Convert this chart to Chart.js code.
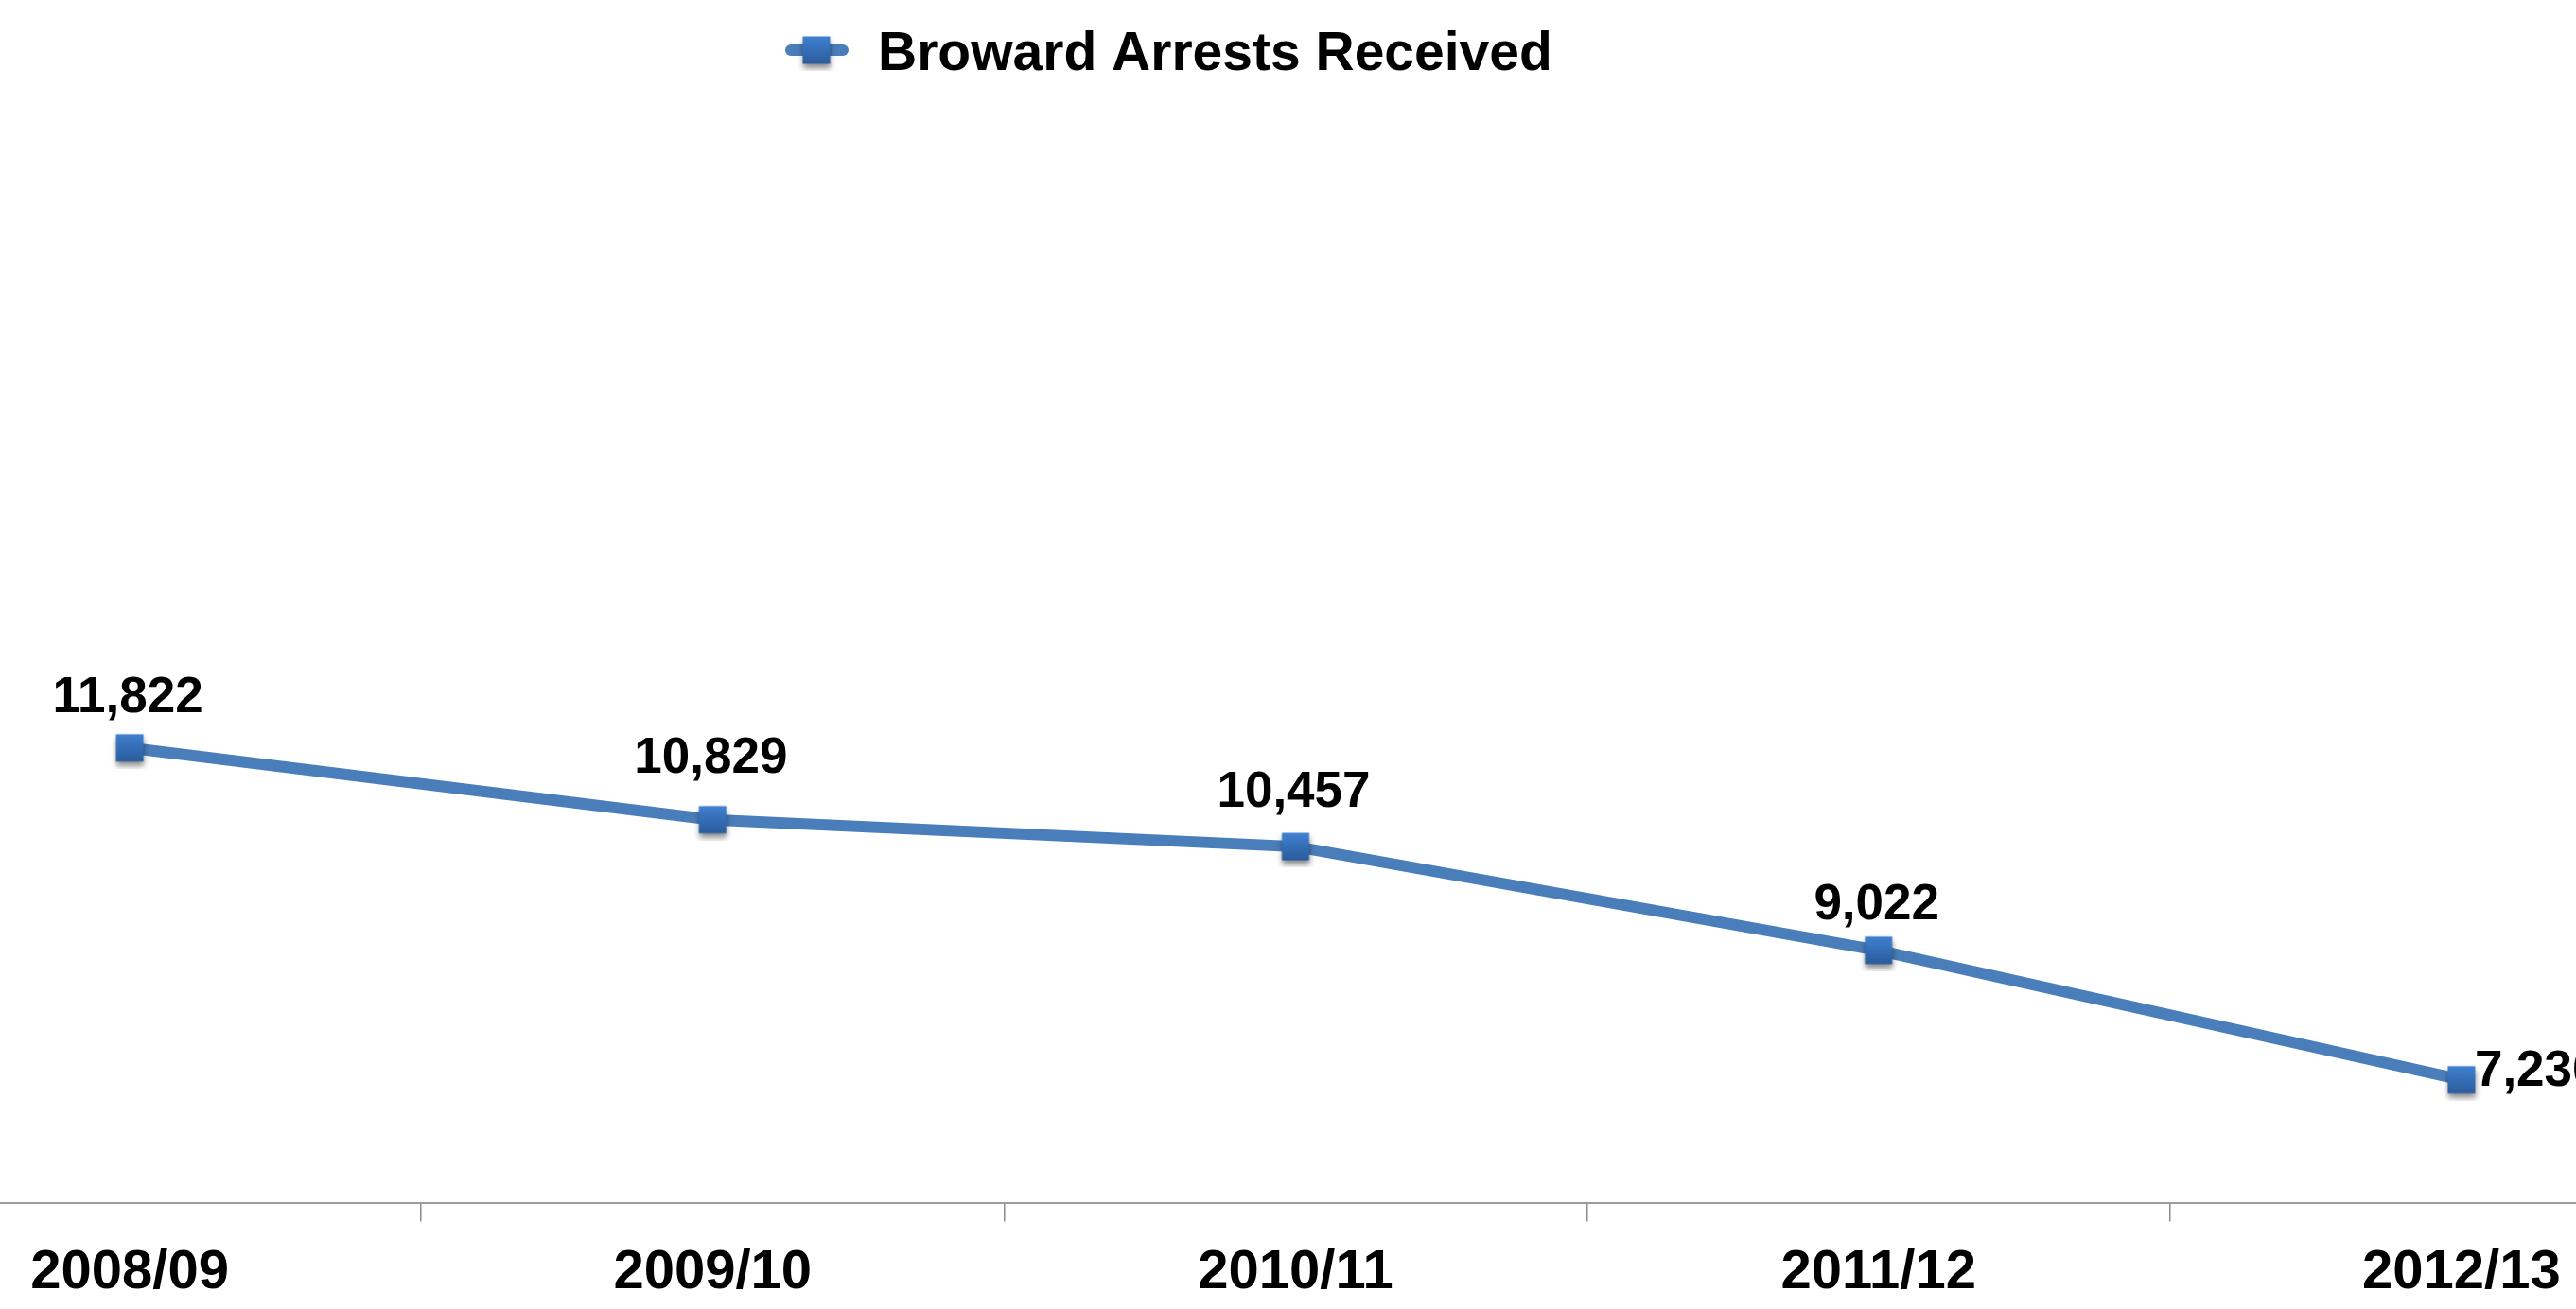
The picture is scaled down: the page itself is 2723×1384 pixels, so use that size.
<!DOCTYPE html>
<html>
<head>
<meta charset="utf-8">
<script src="https://cdn.jsdelivr.net/npm/chart.js@4.4.1/dist/chart.umd.min.js"></script>
<style>
  html, body { margin: 0; padding: 0; background: #ffffff; overflow: hidden; width: 2723px; height: 1384px; }
  #wrap { position: absolute; left: -171px; top: 0; }
  canvas { display: block; }
</style>
</head>
<body>
<div id="wrap"><canvas id="c" width="3081" height="1401"></canvas></div>
<script>
// ---- data ----
const categories = ['2008/09', '2009/10', '2010/11', '2011/12', '2012/13'];
const arrestsReceived = [11822, 10829, 10457, 9022, 7230];
const seriesLabel = 'Broward Arrests Received';
const yMin = 5520;
const yMax = 22170;

// ---- label placement / styling (not data) ----
const labelPlacement = ['top', 'top', 'top', 'top', 'right'];
const labelGap = [38, 50, 42, 33, 0];
const FONT = '"Liberation Sans", Arial, Helvetica, sans-serif';
const LINE_COLOR = '#4a7ebb';
const CANVAS_LEFT = -171;

function makeMarker() {
  const c = document.createElement('canvas');
  c.width = 44; c.height = 44;
  const g = c.getContext('2d');
  g.shadowColor = 'rgba(0,0,0,0.45)';
  g.shadowBlur = 6;
  g.shadowOffsetY = 4;
  const grad = g.createLinearGradient(0, 7.5, 0, 36.5);
  grad.addColorStop(0, '#3f80d0');
  grad.addColorStop(1, '#2b5c9c');
  g.fillStyle = grad;
  g.fillRect(7.5, 7.5, 29, 29);
  return c;
}
const marker = makeMarker();

const manualLegend = {
  id: 'manualLegend',
  afterDraw(chart) {
    const ctx = chart.ctx;
    const ds = chart.data.datasets[0];
    const off = -CANVAS_LEFT;
    const cy = 53;
    ctx.save();
    ctx.strokeStyle = LINE_COLOR;
    ctx.lineWidth = 12;
    ctx.lineCap = 'round';
    ctx.beginPath();
    ctx.moveTo(836 + off, cy);
    ctx.lineTo(891 + off, cy);
    ctx.stroke();
    ctx.drawImage(marker, 863 + off - 22, cy - 22);
    ctx.fillStyle = '#000';
    ctx.font = 'bold 57px ' + FONT;
    ctx.textAlign = 'left';
    ctx.textBaseline = 'alphabetic';
    ctx.fillText(ds.label, 928 + off, 74);
    ctx.restore();
  }
};

const valueLabels = {
  id: 'valueLabels',
  afterDatasetsDraw(chart) {
    const ctx = chart.ctx;
    const meta = chart.getDatasetMeta(0);
    const data = chart.data.datasets[0].data;
    ctx.save();
    ctx.fillStyle = '#000';
    ctx.font = 'bold 53px ' + FONT;
    ctx.textBaseline = 'alphabetic';
    meta.data.forEach((pt, i) => {
      const txt = data[i].toLocaleString('en-US');
      if (labelPlacement[i] === 'right') {
        ctx.textAlign = 'left';
        ctx.fillText(txt, pt.x + 14, pt.y + 6);
      } else {
        ctx.textAlign = 'center';
        ctx.fillText(txt, pt.x - 2, pt.y - labelGap[i]);
      }
    });
    ctx.restore();
  }
};

new Chart(document.getElementById('c'), {
  type: 'line',
  data: {
    labels: categories,
    datasets: [{
      label: seriesLabel,
      data: arrestsReceived,
      borderColor: LINE_COLOR,
      backgroundColor: LINE_COLOR,
      borderWidth: 12,
      tension: 0,
      fill: false,
      clip: false,
      pointStyle: marker,
      pointRadius: 20,
      pointHoverRadius: 20
    }]
  },
  options: {
    responsive: false,
    animation: false,
    devicePixelRatio: 1,
    layout: { padding: 0, autoPadding: false },
    plugins: {
      legend: { display: false },
      tooltip: { enabled: false }
    },
    scales: {
      x: {
        type: 'category',
        offset: true,
        grid: {
          offset: true,
          drawOnChartArea: false,
          drawTicks: true,
          tickLength: 19,
          color: '#8a8a8a',
          lineWidth: 1.5
        },
        border: { display: true, color: '#9c9c9c', width: 2 },
        ticks: {
          color: '#000',
          font: { family: FONT, size: 58, weight: 'bold', lineHeight: 1.2 },
          padding: 20,
          maxRotation: 0,
          autoSkip: false
        }
      },
      y: {
        display: false,
        min: yMin,
        max: yMax
      }
    }
  },
  plugins: [valueLabels, manualLegend]
});
</script>
</body>
</html>
